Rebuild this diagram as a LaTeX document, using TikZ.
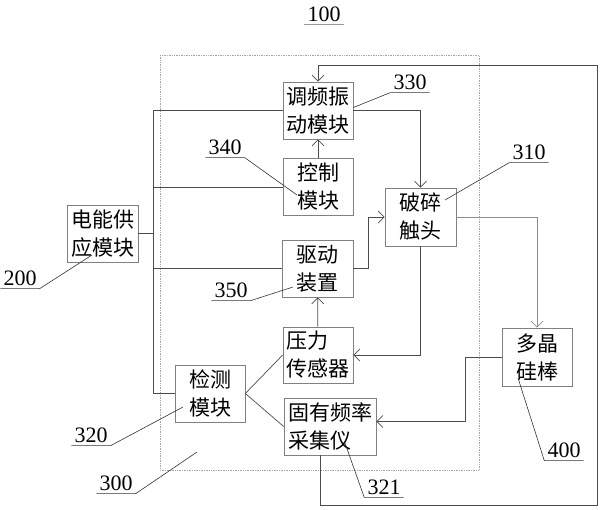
\documentclass[tikz,border=0pt]{standalone}
\usepackage{fontspec}
\setmainfont{Liberation Serif}
\newfontfamily\cjk{Noto Sans CJK SC}
\usetikzlibrary{arrows.meta,positioning,calc}

\tikzset{
  blk/.style={draw=black!50, line width=0.7pt, minimum width=70pt, minimum height=57pt,
    inner sep=0pt, font=\cjk\fontsize{21}{28}\selectfont, align=center},
  wire/.style={draw=black!70, line width=0.7pt},
  arr/.style={wire, -{Straight Barb[length=6pt,width=12pt]}},
  num/.style={font=\fontsize{22}{24}\selectfont, inner xsep=3pt, inner ysep=3pt},
  lead/.style={draw=black!80, line width=0.6pt},
}

\begin{document}
\begin{tikzpicture}[x=1pt,y=-1pt]
  \useasboundingbox (0,0) rectangle (600,509);
  % dotted frame 100
  \draw[black!35, densely dotted, line width=0.7pt] (160,55) rectangle (479,470);

  % blocks
  \node[blk] (vib) at (318,110.5) {调频振\\动模块};
  \node[blk] (ctrl) at (318,187) {控制\\模块};
  \node[blk, minimum width=71pt, minimum height=58pt] (crush) at (420.5,217) {破碎\\触头};
  \node[blk, minimum width=71pt] (drive) at (317.5,268.5) {驱动\\装置};
  \node[blk, minimum height=56pt, align=left] (press) at (318,355) {压力\\传感器};
  \node[blk, minimum width=92pt, align=left] (freq) at (330,426.5) {固有频率\\采集仪};
  \node[blk, minimum height=58pt] (rod) at (537,357) {多晶\\硅棒};
  \node[blk] (detect) at (210,393.5) {检测\\模块};
  \node[blk, minimum width=71pt] (power) at (102.5,233.5) {电能供\\应模块};

  % power bus
  \coordinate (bus) at ($(power.east)+(15,0)$);
  \draw[wire] (power.east) -- (bus);
  \draw[wire] (vib.west) -| (bus) |- (detect.west);
  \draw[wire] (ctrl.west) -- (ctrl.west -| bus);
  \draw[wire] (drive.west) -- (drive.west -| bus);

  % signal paths
  \draw[arr] (ctrl) -- (vib);
  \draw[arr] (vib.east) -| (crush.north);
  \draw[arr] (drive.east) -- ++(15,0) |- (crush.west);
  \draw[arr] (press) -- (drive);
  \draw[arr] (crush.south) |- (press.east);
  \draw[arr, draw=black!45] (crush.east) -| (rod.north);
  \draw[arr] (rod.west) -- ++(-36,0) |- ([yshift=5pt]freq.east);
  \draw[wire] (detect.east) -- (press.west);
  \draw[wire] (detect.east) -- (freq.west);

  % feedback loop
  \coordinate (loopBR) at (597,505);
  \coordinate (loopTR) at (597,65);
  \draw[arr] ([xshift=-10pt]freq.south) |- (loopBR) -- (loopTR) -| (vib.north);

  % reference numbers
  \node[num] (n100) at (324,14) {100};
  \draw[lead, draw=black!40] (n100.south west) -- (n100.south east);

  \node[num] (n330) at (410,82) {330};
  \draw[lead] (n330.south east) -- (n330.south west) -- ($(vib.east)+(0,-3)$);

  \node[num] (n340) at (225,147) {340};
  \draw[lead] (n340.south west) -- (n340.south east) -- ($(ctrl.center)+(-21,8)$);

  \node[num] (n310) at (529,152) {310};
  \draw[lead] (n310.south east) -- (n310.south west) -- ($(crush.center)+(24.5,-17)$);

  \node[num] (n200) at (20,278) {200};
  \draw[lead] (n200.south west) -- (n200.south east) -- ($(power.center)+(-10.5,21.5)$);

  \node[num] (n350) at (231,290) {350};
  \draw[lead] (n350.south west) -- (n350.south east) -- ($(drive.center)+(-24.5,18.5)$);

  \node[num] (n320) at (91,435) {320};
  \draw[lead] (n320.south west) -- (n320.south east) -- ($(detect.center)+(-27,13.5)$);

  \coordinate (frame) at (197,452);
  \node[num] (n300) at (116,483) {300};
  \draw[lead] (n300.south west) -- (n300.south east) -- (frame);

  \node[num] (n321) at (384,487) {321};
  \draw[lead] (n321.south east) -- (n321.south west) -- ($(freq.center)+(15,16.5)$);

  \node[num] (n400) at (564,450) {400};
  \draw[lead] (n400.south east) -- (n400.south west) -- ($(rod.center)+(-19,21)$);
\end{tikzpicture}
\end{document}
